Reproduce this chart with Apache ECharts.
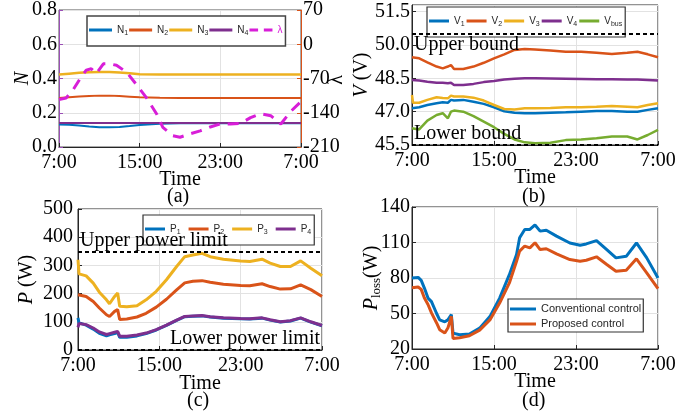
<!DOCTYPE html>
<html>
<head>
<meta charset="utf-8">
<script src="https://cdn.jsdelivr.net/npm/echarts@6/dist/echarts.min.js"></script>
<style>
html, body { margin: 0; padding: 0; background: #fff; }
#chart { width: 679px; height: 415px; }
</style>
</head>
<body>
<div id="chart"></div>
<script>
// x tick labels (hours 0, 8, 16, 24 after 7:00)
var timeLabels = ["7:00", "15:00", "23:00", "7:00"];

// (a) consensus variables N and lambda
var hoursA = [0, 1, 2, 3, 4, 5, 6, 7, 8, 10, 12, 14, 16, 18, 20, 22, 24];
var N1 = [0.132, 0.13, 0.126, 0.12, 0.116, 0.115, 0.117, 0.122, 0.128, 0.136, 0.139, 0.139, 0.139, 0.139, 0.139, 0.139, 0.139];
var N2 = [0.286, 0.29, 0.295, 0.298, 0.3, 0.3, 0.298, 0.294, 0.29, 0.287, 0.286, 0.286, 0.286, 0.286, 0.286, 0.286, 0.286];
var N3 = [0.423, 0.428, 0.433, 0.437, 0.438, 0.438, 0.435, 0.43, 0.425, 0.423, 0.423, 0.423, 0.423, 0.423, 0.423, 0.423, 0.423];
var N4 = [0.14, 0.14, 0.14, 0.14, 0.14, 0.14, 0.14, 0.14, 0.14, 0.14, 0.14, 0.14, 0.14, 0.14, 0.14, 0.14, 0.14];
var hoursLam = [0, 0.7, 1.4, 2.1, 2.7, 3.2, 3.7, 4.4, 5, 5.7, 6.7, 7.7, 8.7, 9.7, 10.3, 11.3, 12, 13, 14, 15, 16, 17, 18, 19, 20, 21, 22, 23, 24];
var lambda = [-113, -110, -93, -70, -53, -50, -60, -40, -40, -43, -57, -83, -110, -143, -170, -187, -190, -183, -177, -169, -163, -163, -162, -150, -142, -146, -163, -137, -117];

// (b) voltages
var hoursB = [0, 0.1, 0.7, 1.5, 2.4, 3.0, 3.5, 3.8, 4.1, 5, 6, 7, 8, 9, 10, 11, 12, 13.5, 15, 16.5, 18, 19.5, 21, 22, 23, 24];
var V1 = [47.15, 47.15, 47.2, 47.3, 47.38, 47.42, 47.4, 47.53, 47.5, 47.53, 47.45, 47.35, 47.2, 47.02, 46.95, 46.93, 46.93, 46.95, 46.97, 47.0, 47.03, 47.03, 47.0, 47.0, 47.08, 47.15];
var V2 = [49.45, 49.45, 49.4, 49.22, 49.03, 48.95, 49.03, 49.1, 48.92, 48.92, 49.03, 49.2, 49.4, 49.58, 49.78, 49.82, 49.8, 49.75, 49.7, 49.7, 49.65, 49.6, 49.65, 49.7, 49.58, 49.45];
var V3 = [47.75, 47.4, 47.4, 47.53, 47.65, 47.62, 47.6, 47.72, 47.68, 47.68, 47.63, 47.5, 47.3, 47.12, 47.1, 47.15, 47.15, 47.17, 47.2, 47.2, 47.22, 47.25, 47.22, 47.2, 47.3, 47.38];
var V4 = [48.43, 48.43, 48.4, 48.35, 48.3, 48.3, 48.28, 48.3, 48.2, 48.2, 48.25, 48.33, 48.38, 48.45, 48.48, 48.5, 48.5, 48.49, 48.48, 48.47, 48.46, 48.46, 48.45, 48.45, 48.43, 48.4];
var Vbus = [46.25, 46.25, 46.2, 46.6, 46.85, 46.93, 46.7, 47.0, 47.05, 47.0, 46.8, 46.55, 46.3, 46.0, 45.75, 45.62, 45.58, 45.6, 45.72, 45.75, 45.8, 45.88, 45.88, 45.75, 45.95, 46.18];
var voltBounds = [50.5, 45.5];

// (c) converter powers
var hoursC = [0, 0.1, 0.8, 1.5, 2.1, 2.8, 3.1, 3.6, 3.9, 4.1, 4.8, 5.8, 6.7, 7.7, 8.7, 9.7, 10.5, 11.3, 12.2, 13, 14.3, 16, 16.9, 18.1, 18.9, 19.9, 20.9, 21.9, 22.9, 24];
var P1 = [114, 96, 88, 74, 59, 50, 54, 58, 62, 45, 45, 50, 58, 71, 87, 105, 118, 120, 121, 117, 113, 111, 110, 113, 106, 99, 103, 113, 99, 86];
var P2 = [196, 194, 190, 172, 149, 125, 119, 137, 143, 108, 110, 117, 130, 152, 180, 213, 238, 244, 246, 240, 233, 229, 228, 235, 225, 216, 217, 231, 214, 190];
var P3 = [320, 270, 263, 237, 205, 178, 164, 190, 202, 155, 153, 157, 178, 208, 249, 296, 331, 337, 343, 331, 322, 316, 314, 322, 308, 296, 296, 316, 290, 263];
var P4 = [80, 94, 90, 78, 64, 55, 58, 63, 66, 49, 49, 53, 60, 72, 88, 106, 119, 121, 122, 118, 114, 112, 111, 114, 107, 100, 104, 114, 100, 87];
var powerLimits = [350, 0];

// (d) power loss
var hoursD = [0, 0.6, 0.9, 1.2, 1.56, 1.9, 2.4, 2.7, 3.2, 3.5, 3.84, 4.0, 4.65, 5.6, 6.6, 7.6, 8.55, 9.5, 10.2, 10.5, 11, 11.5, 12, 12.5, 13.1, 14.1, 15.4, 16.4, 17, 18, 19, 19.9, 20.9, 21.9, 22.9, 24];
var lossConv = [80, 80.5, 78, 71.7, 63, 60, 50, 44.6, 43, 44.6, 49, 33.4, 32, 32.7, 37.6, 47.4, 63, 82.8, 99.8, 114, 121, 121, 124.8, 119.6, 120.4, 115.4, 109.6, 107.7, 108.8, 111.6, 104, 97, 98.3, 109.6, 97, 80];
var lossProp = [71.7, 72.4, 70.4, 63.3, 57.6, 50.5, 42, 36.3, 33.5, 37.7, 47.6, 28.9, 29.5, 31.2, 36, 44.6, 58.8, 75.8, 94.2, 102.7, 107, 105.5, 109.8, 104, 104.7, 100.4, 95.6, 94.2, 95, 97.9, 91.4, 85.7, 86.6, 96.2, 84.4, 71];

var C = { blue: "#0072BD", orange: "#D95319", yellow: "#EDB120", purple: "#7E2F8E", green: "#77AC30", magenta: "#D81ED8" };
var SERIF = "Liberation Serif";
var SANS = "Liberation Sans";
var DASH_ICON = "path://M0 0h9v3H0z M15 0h9v3H15z";

function pairs(h, v) {
  return h.map(function (t, i) { return [t, v[i]]; });
}

function xAx(g, gap) {
  return {
    type: "value", gridIndex: g, min: 0, max: 24, interval: 8,
    name: "Time", nameLocation: "middle", nameGap: gap, nameMoveOverlap: false,
    nameTextStyle: { fontFamily: SERIF, fontSize: 20, color: "#000" },
    axisLine: { lineStyle: { color: "#262626" } },
    axisTick: { inside: true, length: 4, lineStyle: { color: "#262626" } },
    axisLabel: { fontFamily: SERIF, fontSize: 20, color: "#000", margin: 6,
      formatter: function (v) { return timeLabels[Math.round(v / 8)]; } },
    splitLine: { show: true, lineStyle: { color: "#e2e2e2" } }
  };
}

function yAx(g, o) {
  var a = {
    type: "value", gridIndex: g, min: o.min, max: o.max, interval: o.interval,
    name: o.name, nameLocation: "middle", nameGap: o.gap, nameRotate: 90, nameMoveOverlap: false,
    nameTextStyle: { fontFamily: SERIF, fontSize: 20, color: "#000", rich: o.rich },
    axisLine: { show: true, lineStyle: { color: o.lineColor || "#262626" } },
    axisTick: { show: true, inside: true, length: 4, lineStyle: { color: o.lineColor || "#262626" } },
    axisLabel: { fontFamily: SERIF, fontSize: 20, color: "#000", margin: o.margin || 2,
      showMaxLabel: o.showMax !== false, formatter: o.fmt },
    splitLine: { show: o.split !== false, lineStyle: { color: "#e2e2e2" } }
  };
  if (o.position) a.position = o.position;
  return a;
}

function line(name, x, y, h, v, color, w, extra) {
  var s = {
    name: name, type: "line", xAxisIndex: x, yAxisIndex: y, data: pairs(h, v),
    showSymbol: false, symbol: "none", color: color,
    lineStyle: { color: color, width: w }
  };
  for (var k in extra) s[k] = extra[k];
  return s;
}

function boundLine(value, text, pos) {
  return {
    yAxis: value,
    label: { show: !!text, formatter: text, position: pos, distance: [2, 1],
      fontFamily: SERIF, fontSize: 20, color: "#000" }
  };
}

var subRich = {
  m: { fontFamily: SANS, fontSize: 10, color: "#262626", lineHeight: 14, verticalAlign: "middle" },
  s: { fontFamily: SANS, fontSize: 7, color: "#262626", lineHeight: 14, verticalAlign: "bottom" },
  l: { fontFamily: SANS, fontSize: 10, color: C.magenta, lineHeight: 14 }
};
function subFmt(name) {
  if (name === "\u03bb") return "{l|\u03bb}";
  return "{m|" + name.charAt(0) + "}{s|" + name.slice(1) + "}";
}

// legend entries with a fixed text box width
function items(names, widths) {
  return names.map(function (n, i) {
    var it = { name: n, textStyle: { width: widths[i] } };
    if (n === "\u03bb") it.icon = DASH_ICON;
    return it;
  });
}

function legendBox(data, left, top, gap, iw, extra) {
  var l = {
    data: data, left: left, top: top, itemGap: gap, itemWidth: iw, itemHeight: 3,
    icon: "rect",
    padding: [9, 3, 9, 2], backgroundColor: "#fff", borderColor: "#333", borderWidth: 1.2,
    formatter: subFmt,
    textStyle: { fontFamily: SANS, fontSize: 10, color: "#262626", rich: subRich }
  };
  for (var k in extra) l[k] = extra[k];
  return l;
}

var chart = echarts.init(document.getElementById("chart"), null, { renderer: "canvas" });

var option = {
  animation: false,
  backgroundColor: "#fff",
  grid: [
    { left: 59, top: 7, width: 242, height: 140, show: true, borderColor: "#555", borderWidth: 1 },
    { left: 412, top: 5, width: 246, height: 140, show: true, borderColor: "#262626", borderWidth: 1 },
    { left: 78, top: 209, width: 244, height: 141, show: true, borderColor: "#262626", borderWidth: 1 },
    { left: 412, top: 207, width: 246, height: 142, show: true, borderColor: "#262626", borderWidth: 1 }
  ],
  xAxis: [xAx(0, 23), xAx(1, 23), xAx(2, 24), xAx(3, 23)],
  yAxis: [
    yAx(0, { min: 0, max: 0.8, interval: 0.2, name: "{i|N}", gap: 26, lineColor: "#9a4fb5",
      rich: { i: { fontFamily: SERIF, fontSize: 20, fontStyle: "italic", color: "#000" } },
      fmt: function (v) { return v.toFixed(1); } }),
    yAx(0, { min: -210, max: 70, interval: 70, name: "", gap: 28, lineColor: C.orange,
      position: "right", split: false }),
    yAx(1, { min: 45.5, max: 51.8, interval: 1.5, name: "{i|V} (V)", gap: 40, showMax: false,
      rich: { i: { fontFamily: SERIF, fontSize: 20, fontStyle: "italic", color: "#000" } },
      fmt: function (v) { return v.toFixed(1); } }),
    yAx(2, { min: 0, max: 500, interval: 100, name: "{i|P} (W)", gap: 41, margin: 5,
      rich: { i: { fontFamily: SERIF, fontSize: 20, fontStyle: "italic", color: "#000" } } }),
    yAx(3, { min: 20, max: 140, interval: 30, name: "{i|P}{s|loss}{n|(W)}", gap: 29,
      rich: {
        i: { fontFamily: SERIF, fontSize: 20, fontStyle: "italic", color: "#000", verticalAlign: "middle", lineHeight: 22 },
        s: { fontFamily: SERIF, fontSize: 13, color: "#000", verticalAlign: "bottom", lineHeight: 22 },
        n: { fontFamily: SERIF, fontSize: 20, color: "#000", verticalAlign: "middle", lineHeight: 22 }
      } })
  ],
  legend: [
    legendBox(items(["N1", "N2", "N3", "N4", "\u03bb"], [12, 12, 12, 12, 8]),
      87, 16, 1, 23, { borderWidth: 1.5, borderColor: "#444" }),
    legendBox(items(["V1", "V2", "V3", "V4", "Vbus"], [12, 12, 12, 12, 44]), 427, 7, 2, 20, {}),
    legendBox(items(["P1", "P2", "P3", "P4"], [13, 13, 13, 13]), 143, 215, 8, 20, {}),
    {
      data: ["Conventional control", "Proposed control"], orient: "vertical",
      left: 508, top: 299, itemGap: 3, itemWidth: 26, itemHeight: 3, icon: "rect",
      padding: [4, 2, 2, 2], backgroundColor: "#fff", borderColor: "#333", borderWidth: 1.2,
      textStyle: { fontFamily: SANS, fontSize: 11, color: "#262626", lineHeight: 12 }
    }
  ],
  graphic: [
    { type: "text", x: 337, y: 80, rotation: Math.PI / 2,
      style: { text: "\u03bb", font: "20px " + SERIF, fill: "#000", align: "center", verticalAlign: "middle" } },
    { type: "text", left: 167, top: 187, style: { text: "(a)", font: "20px " + SERIF, fill: "#000" } },
    { type: "text", left: 522, top: 187, style: { text: "(b)", font: "20px " + SERIF, fill: "#000" } },
    { type: "text", left: 187, top: 391, style: { text: "(c)", font: "20px " + SERIF, fill: "#000" } },
    { type: "text", left: 522, top: 391, style: { text: "(d)", font: "20px " + SERIF, fill: "#000" } }
  ],
  series: [
    line("N1", 0, 0, hoursA, N1, C.blue, 2),
    line("N2", 0, 0, hoursA, N2, C.orange, 2),
    line("N3", 0, 0, hoursA, N3, C.yellow, 2.5),
    line("N4", 0, 0, hoursA, N4, C.purple, 2),
    line("\u03bb", 0, 1, hoursLam, lambda, C.magenta, 3, {
      lineStyle: { color: C.magenta, width: 3, type: [11, 8] } }),

    line("V1", 1, 2, hoursB, V1, C.blue, 2.5),
    line("V2", 1, 2, hoursB, V2, C.orange, 2.5),
    line("V3", 1, 2, hoursB, V3, C.yellow, 2.5),
    line("V4", 1, 2, hoursB, V4, C.purple, 2.5),
    line("Vbus", 1, 2, hoursB, Vbus, C.green, 2.5, {
      markLine: { silent: true, symbol: "none", animation: false,
        lineStyle: { color: "#000", type: [4, 3], width: 2 },
        data: [boundLine(voltBounds[0], "Upper bound", "insideStartBottom"),
               boundLine(voltBounds[1], "Lower bound", "insideStartTop")] } }),

    line("P1", 2, 3, hoursC, P1, C.blue, 3),
    line("P2", 2, 3, hoursC, P2, C.orange, 3),
    line("P3", 2, 3, hoursC, P3, C.yellow, 3),
    line("P4", 2, 3, hoursC, P4, C.purple, 3, {
      markLine: { silent: true, symbol: "none", animation: false,
        lineStyle: { color: "#000", type: [4, 3], width: 2 },
        data: [boundLine(powerLimits[0], "Upper power limit", "insideStartTop"),
               boundLine(powerLimits[1], "Lower power limit", "insideEndTop")] } }),

    line("Conventional control", 3, 4, hoursD, lossConv, C.blue, 3),
    line("Proposed control", 3, 4, hoursD, lossProp, C.orange, 3)
  ]
};

chart.setOption(option);
</script>
</body>
</html>
